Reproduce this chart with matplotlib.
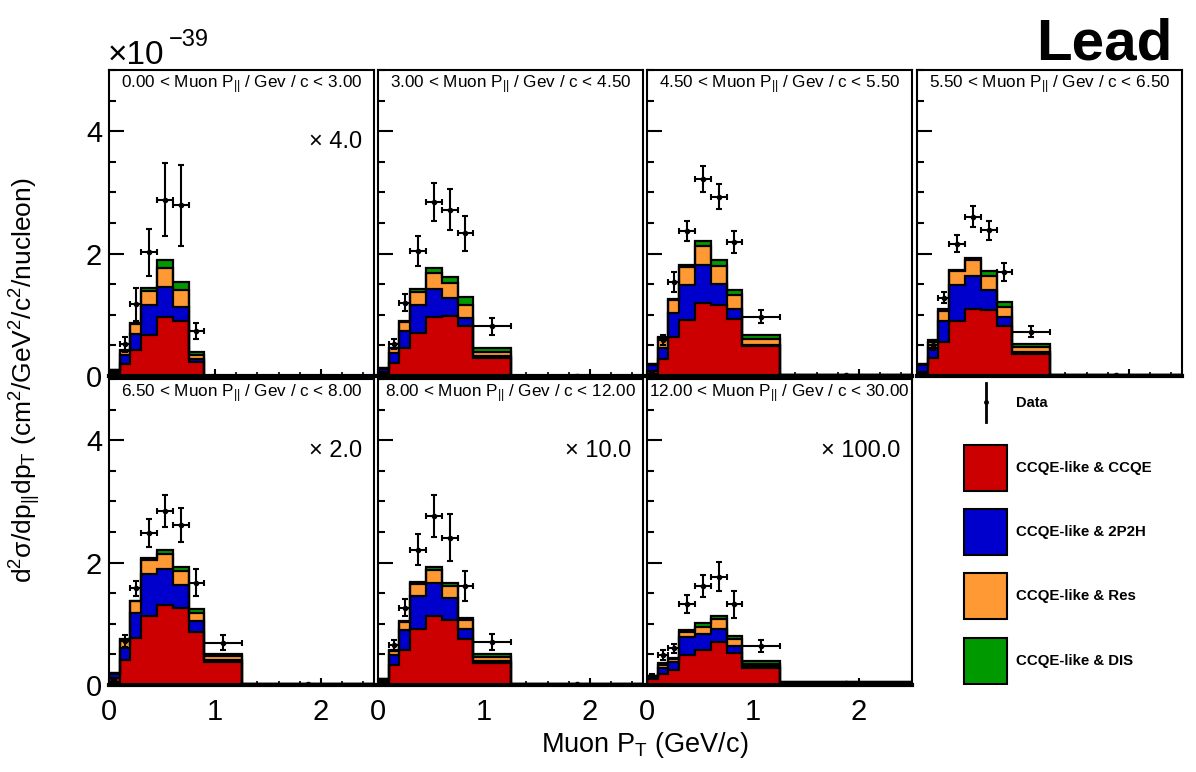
import numpy as np
import matplotlib
matplotlib.use('Agg')
import matplotlib.pyplot as plt
from matplotlib.ticker import MultipleLocator, FixedLocator
from matplotlib.patches import Rectangle
from matplotlib.lines import Line2D

plt.rcParams['font.family'] = ['Liberation Sans', 'DejaVu Sans']
plt.rcParams['mathtext.default'] = 'regular'

# muon pT bin edges (GeV/c)
edges = [0, 0.1, 0.2, 0.3, 0.45, 0.6, 0.75, 0.9, 1.25, 2.5]

titles = ['0.00 < Muon P$_{||}$ / Gev / c < 3.00',
          '3.00 < Muon P$_{||}$ / Gev / c < 4.50',
          '4.50 < Muon P$_{||}$ / Gev / c < 5.50',
          '5.50 < Muon P$_{||}$ / Gev / c < 6.50',
          '6.50 < Muon P$_{||}$ / Gev / c < 8.00',
          '8.00 < Muon P$_{||}$ / Gev / c < 12.00',
          '12.00 < Muon P$_{||}$ / Gev / c < 30.00']
scales = ['\u00d7 4.0', '', '', '', '\u00d7 2.0', '\u00d7 10.0', '\u00d7 100.0']

# stacked MC components (x1e-39, already multiplied by the panel scale)
ccqe = [[0.07, 0.20, 0.42, 0.67, 0.96, 0.90, 0.23, 0, 0],
        [0.06, 0.22, 0.45, 0.70, 0.96, 0.98, 0.82, 0.30, 0.005],
        [0.08, 0.28, 0.64, 0.91, 1.20, 1.16, 0.93, 0.49, 0.01],
        [0.07, 0.29, 0.56, 0.90, 1.10, 1.08, 0.82, 0.36, 0.01],
        [0.12, 0.41, 0.76, 1.12, 1.30, 1.26, 0.86, 0.37, 0.01],
        [0.06, 0.32, 0.57, 0.91, 1.13, 1.07, 0.75, 0.36, 0.01],
        [0.10, 0.18, 0.24, 0.49, 0.58, 0.70, 0.52, 0.27, 0.04]]
twop2h = [[0.02, 0.14, 0.27, 0.49, 0.49, 0.23, 0.05, 0, 0],
          [0.06, 0.15, 0.28, 0.46, 0.46, 0.29, 0.13, 0.03, 0],
          [0.10, 0.17, 0.39, 0.57, 0.61, 0.35, 0.17, 0.01, 0],
          [0.11, 0.16, 0.34, 0.59, 0.54, 0.33, 0.15, 0.04, 0],
          [0.06, 0.19, 0.42, 0.69, 0.59, 0.38, 0.18, 0.04, 0],
          [0.03, 0.17, 0.33, 0.55, 0.54, 0.35, 0.16, 0.04, 0],
          [0.04, 0.10, 0.13, 0.29, 0.25, 0.22, 0.12, 0.04, 0.005]]
res = [[0.005, 0.07, 0.16, 0.23, 0.31, 0.27, 0.07, 0, 0],
       [0.01, 0.08, 0.16, 0.21, 0.26, 0.25, 0.21, 0.06, 0],
       [0.01, 0.17, 0.21, 0.30, 0.32, 0.28, 0.22, 0.11, 0],
       [0.01, 0.11, 0.17, 0.23, 0.25, 0.23, 0.16, 0.08, 0],
       [0.01, 0.12, 0.19, 0.23, 0.25, 0.23, 0.13, 0.06, 0],
       [0.01, 0.07, 0.13, 0.19, 0.21, 0.19, 0.15, 0.06, 0],
       [0.01, 0.05, 0.05, 0.09, 0.12, 0.16, 0.11, 0.04, 0.005]]
dis = [[0, 0.01, 0.02, 0.04, 0.13, 0.14, 0.05, 0, 0],
       [0, 0.01, 0.01, 0.05, 0.09, 0.10, 0.13, 0.06, 0],
       [0, 0.02, 0.01, 0.03, 0.08, 0.10, 0.09, 0.06, 0],
       [0, 0.03, 0.02, 0.02, 0.04, 0.07, 0.08, 0.04, 0],
       [0, 0.03, 0.01, 0.04, 0.07, 0.06, 0.07, 0.04, 0],
       [0, 0.01, 0.02, 0.03, 0.04, 0.05, 0.04, 0.04, 0],
       [0, 0.03, 0.02, 0.03, 0.06, 0.05, 0.05, 0.05, 0]]

data_y = [[0.03, 0.52, 1.17, 2.02, 2.88, 2.79, 0.74, 0, 0],
          [0.03, 0.52, 1.20, 2.04, 2.84, 2.72, 2.33, 0.81, 0.005],
          [0.04, 0.59, 1.54, 2.37, 3.22, 2.93, 2.19, 0.97, 0.01],
          [0.03, 0.51, 1.28, 2.16, 2.60, 2.38, 1.70, 0.72, 0.01],
          [0.05, 0.72, 1.58, 2.48, 2.84, 2.61, 1.67, 0.69, 0.01],
          [0.04, 0.65, 1.26, 2.21, 2.76, 2.41, 1.62, 0.71, 0.01],
          [0.14, 0.49, 0.60, 1.32, 1.62, 1.77, 1.32, 0.64, 0.03]]
data_err = [[0.02, 0.12, 0.27, 0.39, 0.60, 0.66, 0.13, 0, 0],
            [0.02, 0.08, 0.145, 0.25, 0.31, 0.33, 0.28, 0.14, 0.005],
            [0.02, 0.08, 0.16, 0.17, 0.21, 0.20, 0.18, 0.11, 0.005],
            [0.02, 0.08, 0.09, 0.14, 0.17, 0.16, 0.15, 0.09, 0.005],
            [0.03, 0.10, 0.12, 0.23, 0.26, 0.28, 0.22, 0.12, 0.005],
            [0.03, 0.09, 0.14, 0.25, 0.34, 0.38, 0.25, 0.13, 0.005],
            [0.04, 0.08, 0.07, 0.15, 0.18, 0.24, 0.22, 0.10, 0.01]]

colors = ['#cc0000', '#0000cc', '#ff9933', '#009900']
labels = ['CCQE-like & CCQE', 'CCQE-like & 2P2H', 'CCQE-like & Res', 'CCQE-like & DIS']

W, H = 1196, 772
fig = plt.figure(figsize=(W / 100, H / 100), dpi=100)
fig.patch.set_facecolor('white')

col_x = [109, 378, 647, 917]
row_top = [70, 379]
pw, ph = 265, 306


def px_rect(x, top, w, h):
    return [x / W, 1 - (top + h) / H, w / W, h / H]


edges_a = np.array(edges)
centers = 0.5 * (edges_a[1:] + edges_a[:-1])
halfw = 0.5 * (edges_a[1:] - edges_a[:-1])

for i in range(7):
    r, c = divmod(i, 4)
    ax = fig.add_axes(px_rect(col_x[c], row_top[r], pw, ph))
    layers = [ccqe[i], twop2h[i], res[i], dis[i]]
    cum = np.cumsum(np.array(layers), axis=0)
    # draw biggest cumulative first, like a THStack
    for k in range(3, -1, -1):
        ax.stairs(cum[k], edges, fill=True, color=colors[k], baseline=0, zorder=2)
        ax.stairs(cum[k], edges, color='black', lw=1.6, baseline=0, zorder=3)
    y = np.array(data_y[i])
    e = np.array(data_err[i])
    m = y > 0
    ax.errorbar(centers[m], y[m], xerr=halfw[m], yerr=e[m], fmt='o', ms=3,
                color='black', elinewidth=1.5, capsize=2, capthick=1.5, zorder=5)

    ax.set_xlim(0, 2.5)
    ax.set_ylim(0, 5)
    ax.yaxis.set_major_locator(FixedLocator([0, 2, 4]))
    ax.yaxis.set_minor_locator(MultipleLocator(0.5))
    ax.xaxis.set_major_locator(FixedLocator([0, 1, 2]))
    ax.xaxis.set_minor_locator(MultipleLocator(0.2))
    ax.tick_params(axis='y', which='major', direction='in', length=11, width=1.5,
                   labelsize=21, pad=5)
    ax.tick_params(axis='y', which='minor', direction='in', length=5, width=1.5)
    ax.tick_params(axis='x', which='major', direction='in', length=5, width=1.5,
                   labelsize=21, pad=9)
    ax.tick_params(axis='x', which='minor', direction='in', length=3, width=1.2)
    if c != 0:
        ax.tick_params(axis='y', labelleft=False)
    if r == 0:
        ax.tick_params(axis='x', labelbottom=False)
    for s in ax.spines.values():
        s.set_linewidth(1.5)
    ax.spines['bottom'].set_linewidth(3)
    ax.spines['bottom'].set_zorder(6)

    ax.text(0.5, 0.951, titles[i], transform=ax.transAxes, ha='center',
            va='center', fontsize=12.3)
    if scales[i]:
        ax.text(0.955, 0.765, scales[i], transform=ax.transAxes, ha='right',
                va='center', fontsize=17)

# legend in the empty eighth cell
lax = fig.add_axes(px_rect(col_x[3], row_top[1], pw, ph))
lax.set_xlim(col_x[3], col_x[3] + pw)
lax.set_ylim(row_top[1] + ph, row_top[1])
lax.axis('off')
lax.add_line(Line2D([986, 986], [383, 422], color='black', lw=2))
lax.plot([986], [402], 'o', color='black', ms=2.5)
lax.text(1016, 403, 'Data', fontsize=10.5, fontweight='bold', va='center')
box_tops = [445, 509, 573, 638]
for k in range(4):
    lax.add_patch(Rectangle((964, box_tops[k]), 43, 46, facecolor=colors[k],
                            edgecolor='black', lw=1.5))
    lax.text(1016, box_tops[k] + 23, labels[k], fontsize=10.8,
             fontweight='bold', va='center')

# axis titles and decorations
fig.text(25 / W, 1 - 380 / H,
         'd$^{2}$\u03c3/dp$_{||}$dp$_{T}$ (cm$^{2}$/GeV$^{2}$/c$^{2}$/nucleon)',
         rotation=90, ha='center', va='center', fontsize=19)
fig.text(645 / W, 1 - 745 / H, 'Muon P$_{T}$ (GeV/c)', ha='center',
         va='center', fontsize=19.5)
fig.text(108 / W, 1 - 64 / H, '\u00d710', ha='left', va='baseline', fontsize=24)
fig.text(169 / W, 1 - 46 / H, '\u221239', ha='left', va='baseline', fontsize=17)
fig.text(1172 / W, 1 - 60 / H, 'Lead', ha='right', va='baseline', fontsize=42,
         fontweight='bold')

fig.savefig('out.png', dpi=100)
